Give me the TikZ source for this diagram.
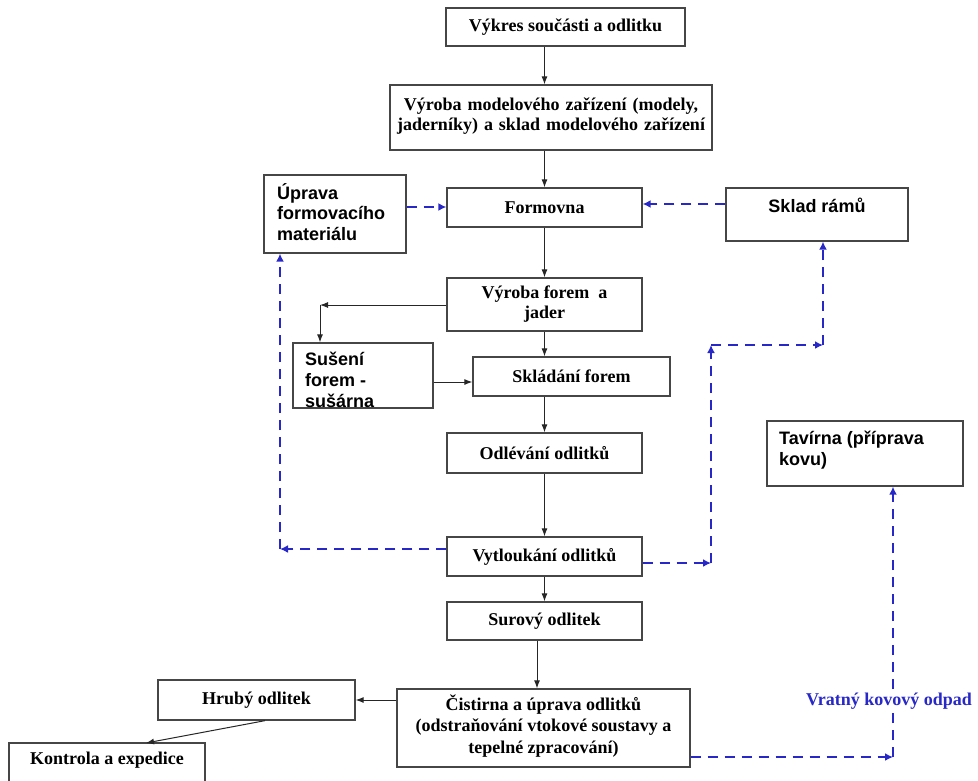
\documentclass[tikz,border=0pt]{standalone}
\usepackage{fontspec}
\setmainfont{Liberation Serif}
\newfontfamily\arialf{Liberation Sans}
\usetikzlibrary{arrows.meta}
\definecolor{dblue}{RGB}{40,40,200}
\definecolor{boxline}{RGB}{70,70,70}
\tikzset{
  box/.style={draw=boxline, line width=1.3pt, fill=white, inner sep=0pt},
  serl/.style={font=\fontsize{18}{20}\selectfont\bfseries, align=center, inner sep=0pt},
  sansl/.style={font=\arialf\fontsize{18}{20.5}\selectfont\bfseries, align=left, inner sep=0pt, anchor=north west},
  solidarr/.style={draw=black!85, line width=1pt, -{Latex[length=8pt,width=6pt]}},
  dasharr/.style={draw=dblue, line width=2.4pt, dash pattern=on 10pt off 7pt, -{Latex[length=8pt,width=8pt]}},
}
\begin{document}
\begin{tikzpicture}[x=1pt,y=-1pt]
\useasboundingbox (0,0) rectangle (978,780);
% boxes
\node[box, minimum width=239pt, minimum height=38pt] (b1) at (565.5,27) {};
\node[serl] (t1) at (b1.center) {Výkres součásti a odlitku};
\node[box, minimum width=322pt, minimum height=65pt] (b2) at (551,117.5) {};
\node[serl, text width=322pt] (t2) at (551,116) {Výroba modelového zařízení (modely,\\jaderníky) a sklad modelového zařízení};
\node[box, minimum width=195pt, minimum height=39pt] (form) at (544.5,207.5) {};
\node[serl] (tform) at (form.center) {Formovna};
\node[box, minimum width=142pt, minimum height=78pt] (upr) at (335,214) {};
\node[sansl] (tupr) at (277,183) {Úprava\\formovacího\\materiálu};
\node[box, minimum width=182pt, minimum height=53pt] (sklad) at (817,214.5) {};
\node[font=\arialf\fontsize{18}{20}\selectfont\bfseries, inner sep=0pt] (tsklad) at (817,205) {Sklad rámů};
\node[box, minimum width=195pt, minimum height=53pt] (vyr) at (544.5,304.5) {};
\node[serl] (tvyr) at (vyr.center) {Výroba forem~ a\\jader};
\node[box, minimum width=140pt, minimum height=65pt] (sus) at (363,375.5) {};
\node[sansl, font=\arialf\fontsize{18}{21}\selectfont\bfseries] (tsus) at (305,352) {Sušení\\forem -\\sušárna};
\node[box, minimum width=197pt, minimum height=39pt] (skl) at (571.5,376.5) {};
\node[serl] (tskl) at (skl.center) {Skládání forem};
\node[box, minimum width=195pt, minimum height=40pt] (odl) at (544.5,453) {};
\node[serl] (todl) at (odl.center) {Odlévání odlitků};
\node[box, minimum width=195pt, minimum height=39pt] (vyt) at (544.5,556.5) {};
\node[serl] (tvyt) at (vyt.center) {Vytloukání odlitků};
\node[box, minimum width=195pt, minimum height=38pt] (sur) at (544.5,621) {};
\node[serl] (tsur) at (sur.center) {Surový odlitek};
\node[box, minimum width=293pt, minimum height=78pt] (cis) at (543.5,728) {};
\node[serl, font=\fontsize{18}{21.5}\selectfont\bfseries] (tcis) at (543.5,726) {Čistirna a úprava odlitků\\(odstraňování vtokové soustavy a\\tepelné zpracování)};
\node[box, minimum width=197pt, minimum height=40pt] (hru) at (256.5,700) {};
\node[serl] (thru) at (hru.center) {Hrubý odlitek};
\node[box, minimum width=196pt, minimum height=44pt] (kon) at (107,765) {};
\node[serl] (tkon) at (107,760) {Kontrola a expedice};
\node[box, minimum width=196pt, minimum height=65pt] (tav) at (865,453.5) {};
\node[sansl] (ttav) at (779,431) {Tavírna (příprava\\kovu)};
% solid arrows
\draw[solidarr] (b1.south -| form.center) -- (b2.north -| form.center);
\draw[solidarr] (b2.south -| form.center) -- (form.north);
\draw[solidarr] (form.south) -- (vyr.north);
\draw[solidarr] (vyr.south) -- (skl.north -| vyr.center);
\coordinate (c1) at (320,305);
\draw[solidarr] (vyr.west |- c1) -- (c1);
\draw[solidarr] (c1) -- (sus.north -| c1);
\draw[solidarr] (sus.east |- 0,382) -- (skl.west |- 0,382);
\draw[solidarr] (skl.south -| odl.center) -- (odl.north);
\draw[solidarr] (odl.south) -- (vyt.north);
\draw[solidarr] (vyt.south) -- (sur.north);
\draw[solidarr] (sur.south -| 537,0) -- (cis.north -| 537,0);
\draw[solidarr] (cis.west |- hru.east) -- (hru.east);
\draw[solidarr] (hru.south -| 265,0) -- (146,743);
% dashed blue arrows
\draw[dasharr] (upr.east |- 0,207) -- (form.west |- 0,207);
\draw[dasharr] (sklad.west |- 0,204) -- (form.east |- 0,204);
\coordinate (c2) at (280,549);
\draw[dasharr] (vyt.west |- c2) -- (c2);
\draw[dasharr] (c2) -- (upr.south -| c2);
\coordinate (c3) at (711,563);
\coordinate (c4) at (711,345);
\coordinate (c5) at (823,345);
\draw[dasharr] (vyt.east |- c3) -- (c3);
\draw[dasharr] (c3) -- (c4);
\draw[dasharr] (c4) -- (c5);
\draw[dasharr] (c5) -- (sklad.south -| c5);
\coordinate (c6) at (893,757);
\draw[dasharr] (cis.east |- c6) -- (c6);
\draw[dasharr] (c6) -- (tav.south -| c6);
\node[font=\fontsize{18}{20}\selectfont\bfseries, text=dblue, fill=white, inner sep=2pt] (lab) at (889,701) {Vratný kovový odpad};
\end{tikzpicture}
\end{document}
